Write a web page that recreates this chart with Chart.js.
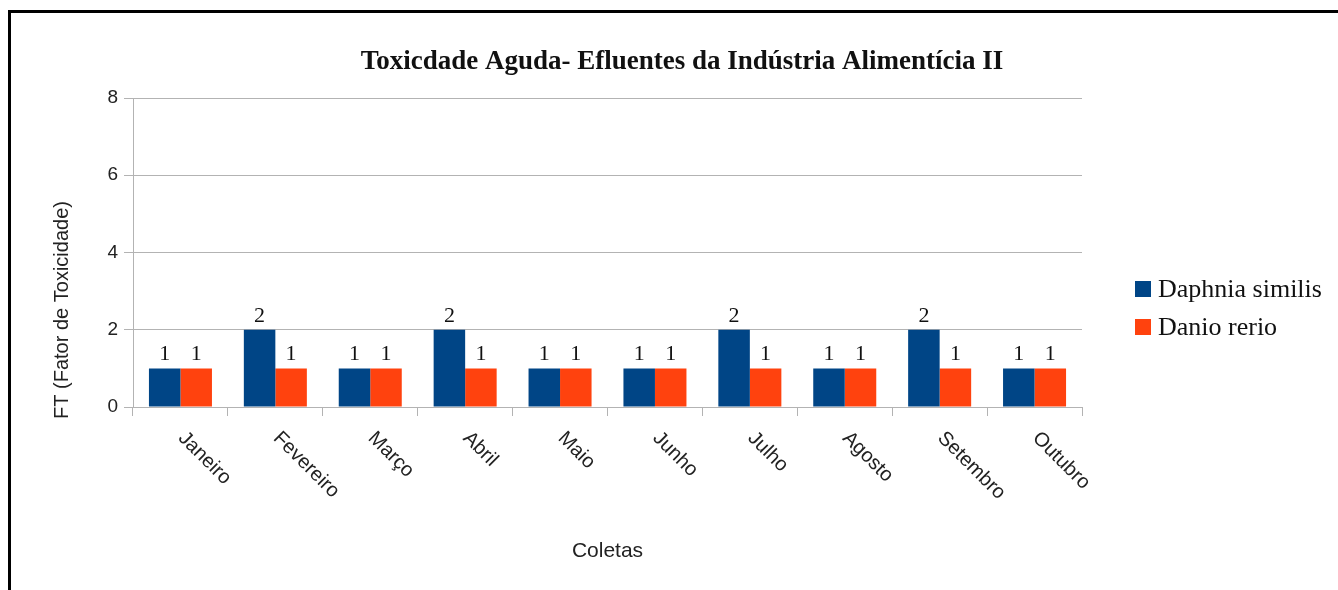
<!DOCTYPE html>
<html>
<head>
<meta charset="utf-8">
<script src="https://cdn.jsdelivr.net/npm/chart.js@4.4.1/dist/chart.umd.min.js"></script>
<style>
  html, body { margin: 0; padding: 0; background: #fff; }
  #wrap { position: relative; width: 1338px; height: 590px; }
  #frame { position: absolute; left: 8px; top: 10px; right: -10px; bottom: -10px;
           border-left: 3px solid #000; border-top: 3px solid #000; pointer-events: none; }
</style>
</head>
<body>
<div id="wrap">
  <canvas id="chart" width="1338" height="590"></canvas>
  <div id="frame"></div>
</div>
<script>
// ── data ─────────────────────────────────────────────
const meses = ['Janeiro', 'Fevereiro', 'Março', 'Abril', 'Maio', 'Junho', 'Julho', 'Agosto', 'Setembro', 'Outubro'];
const daphnia = [1, 2, 1, 2, 1, 1, 2, 1, 2, 1];
const danio   = [1, 1, 1, 1, 1, 1, 1, 1, 1, 1];
const seriesNames = ['Daphnia similis', 'Danio rerio'];
const seriesColors = ['#004586', '#ff420e'];
const chartTitle = 'Toxicdade Aguda- Efluentes da Indústria Alimentícia II';
const yTitle = 'FT (Fator de Toxicidade)';
const xTitle = 'Coletas';

const SANS = '"Liberation Sans", Arial, sans-serif';
const SERIF = '"Liberation Serif", "Times New Roman", serif';

// title, legend, rotated month labels, y title and value labels
const decor = {
  id: 'decor',
  afterDraw(chart) {
    const c = chart.ctx;
    const xs = chart.scales.x;
    const ys = chart.scales.y;
    c.save();

    c.fillStyle = '#111';
    c.font = 'bold 27px ' + SERIF;
    c.textAlign = 'center';
    c.textBaseline = 'middle';
    c.fillText(chartTitle, 682, 62);

    // legend
    c.font = '26px ' + SERIF;
    c.textAlign = 'left';
    chart.data.datasets.forEach((ds, i) => {
      const y = 289 + i * 38;
      c.fillStyle = ds.backgroundColor;
      c.fillRect(1135, y - 8, 16, 16);
      c.fillStyle = '#111';
      c.fillText(ds.label, 1158, y + 1);
    });

    // y title
    c.save();
    c.translate(62, 310);
    c.rotate(-Math.PI / 2);
    c.font = '20px ' + SANS;
    c.fillStyle = '#222';
    c.textAlign = 'center';
    c.fillText(yTitle, 0, 0);
    c.restore();

    // month labels, rotated 45deg clockwise
    c.font = '20px ' + SANS;
    c.fillStyle = '#222';
    meses.forEach((m, i) => {
      const x = xs.getPixelForTick(i);
      c.save();
      c.translate(x + 1, ys.bottom + 28);
      c.rotate(Math.PI / 4);
      c.textAlign = 'left';
      c.textBaseline = 'middle';
      c.fillText(m, 0, 0);
      c.restore();
    });

    // value labels
    c.font = '22px ' + SERIF;
    c.fillStyle = '#111';
    c.textAlign = 'center';
    c.textBaseline = 'bottom';
    chart.data.datasets.forEach((ds, i) => {
      chart.getDatasetMeta(i).data.forEach((bar, j) => {
        c.fillText(String(ds.data[j]), bar.x, bar.y - 3);
      });
    });

    c.restore();
  }
};

new Chart(document.getElementById('chart'), {
  type: 'bar',
  data: {
    labels: meses,
    datasets: [
      { label: seriesNames[0], data: daphnia, backgroundColor: seriesColors[0] },
      { label: seriesNames[1], data: danio, backgroundColor: seriesColors[1] }
    ]
  },
  options: {
    responsive: false,
    animation: false,
    datasets: { bar: { categoryPercentage: 0.664, barPercentage: 1.0 } },
    layout: { padding: { left: 10, right: 256, top: 98, bottom: 0 } },
    plugins: { legend: { display: false }, title: { display: false }, tooltip: { enabled: false } },
    scales: {
      x: {
        afterFit: s => { s.height = 183; },
        grid: { drawOnChartArea: false, drawTicks: true, tickLength: 9, color: '#b3b3b3', offset: true },
        border: { color: '#b3b3b3' },
        ticks: { display: false },
        title: { display: true, text: xTitle, color: '#222', font: { family: SANS, size: 21 }, padding: { top: 0, bottom: 26 } }
      },
      y: {
        min: 0, max: 8,
        afterFit: s => { s.width = 123; },
        grid: { color: '#b3b3b3', tickLength: 9 },
        border: { color: '#b3b3b3' },
        ticks: { stepSize: 2, padding: 6, color: '#222', font: { family: SANS, size: 19 } }
      }
    }
  },
  plugins: [decor]
});
</script>
</body>
</html>
